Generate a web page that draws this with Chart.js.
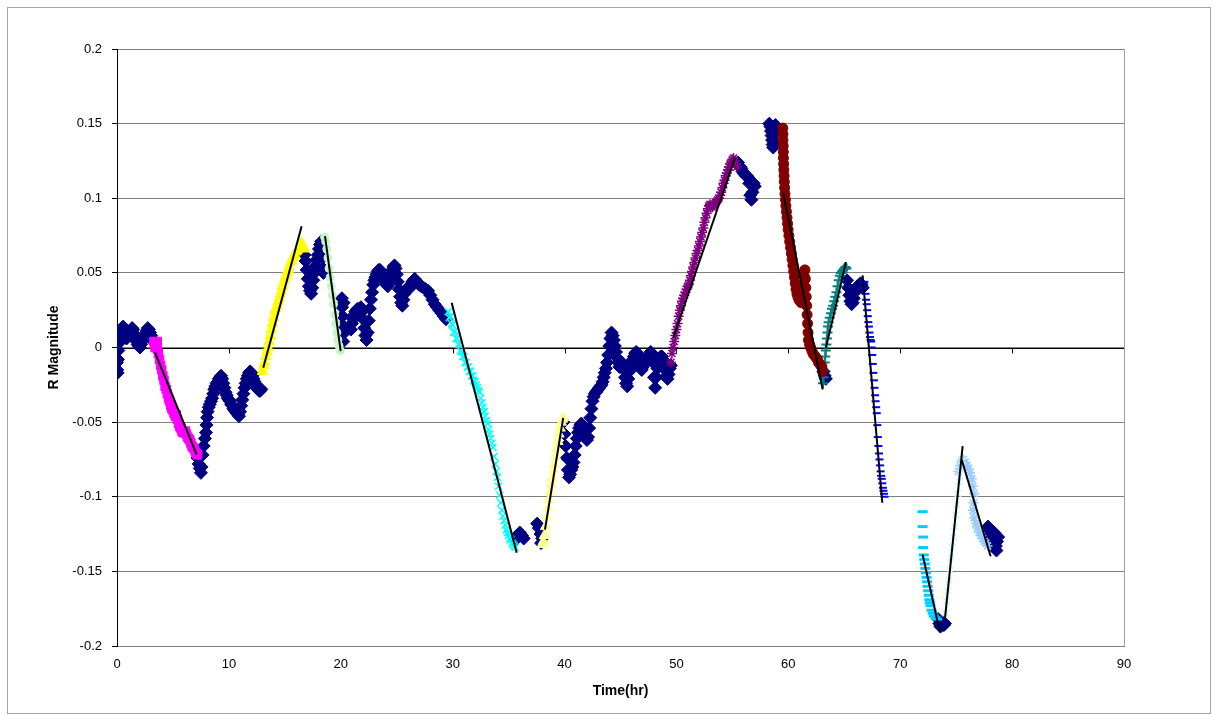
<!DOCTYPE html>
<html>
<head>
<meta charset="utf-8">
<script src="https://cdn.jsdelivr.net/npm/chart.js@4"></script>
<style>
  html, body { margin: 0; padding: 0; background: #ffffff; }
  #wrap { width: 1213px; height: 717px; }
</style>
</head>
<body>
<div id="wrap"><canvas id="c" width="1213" height="717"></canvas></div>
<script>
// ---- Baseline photometry (navy diamonds), one pair of arrays per stretch ----
const baseA_T = [0.00,0.02,0.05,0.08,0.12,0.18,0.25,0.35,0.45,0.55,0.65,0.75,0.85,0.95,1.05,1.15,1.25,1.35,1.45,1.55,1.65,1.75,1.85,1.95,2.05,2.15,2.25,2.35,2.45,2.55,2.65,2.75,2.85,2.95,3.05,3.15,3.25];
const baseA_M = [-0.010,-0.015,-0.017,-0.008,-0.002,0.003,0.007,0.010,0.013,0.014,0.011,0.008,0.006,0.008,0.010,0.011,0.012,0.013,0.012,0.009,0.006,0.004,0.002,0.001,0.000,0.002,0.004,0.005,0.007,0.009,0.011,0.013,0.012,0.010,0.008,0.006,0.004];
const baseB_T = [7.20,7.30,7.40,7.50,7.55,7.65,7.75,7.85,7.95,8.00,8.05,8.10,8.20,8.30,8.40,8.50,8.60,8.70,8.80,8.90,9.00,9.10,9.20,9.30,9.40,9.50,9.60,9.70,9.80,9.90,10.00,10.10,10.20,10.30,10.40,10.50,10.60,10.70,10.80,10.90,11.00,11.10,11.20,11.30,11.40,11.50,11.60,11.70,11.80,11.90,12.00,12.10,12.20,12.30,12.40,12.50,12.60,12.70,12.80,12.90];
const baseB_M = [-0.074,-0.078,-0.081,-0.084,-0.080,-0.072,-0.066,-0.061,-0.057,-0.052,-0.047,-0.043,-0.040,-0.038,-0.036,-0.034,-0.031,-0.028,-0.026,-0.024,-0.023,-0.021,-0.020,-0.019,-0.021,-0.024,-0.027,-0.030,-0.032,-0.034,-0.035,-0.036,-0.038,-0.039,-0.041,-0.042,-0.043,-0.044,-0.045,-0.046,-0.043,-0.039,-0.035,-0.031,-0.027,-0.024,-0.021,-0.019,-0.017,-0.016,-0.017,-0.019,-0.021,-0.023,-0.025,-0.027,-0.028,-0.029,-0.029,-0.028];
const baseC_T = [16.75,16.85,16.95,17.05,17.15,17.25,17.35,17.45,17.55,17.65,17.75,17.85,17.95,18.05,18.15,18.25,18.35,18.40,18.45];
const baseC_M = [0.062,0.058,0.052,0.046,0.041,0.038,0.036,0.040,0.045,0.050,0.055,0.059,0.062,0.066,0.069,0.071,0.060,0.053,0.050];
const baseD_T = [20.10,20.12,20.15,20.18,20.20,20.22,20.25];
const baseD_M = [0.033,0.027,0.021,0.015,0.009,0.004,0.030];
const baseE_T = [20.9,21.0,21.1,21.2,21.3,21.4,21.5,21.6,21.7,21.8,21.9,22.0,22.1,22.2,22.3,22.4,22.5,22.6,22.7,22.8,22.9,23.0,23.1,23.2,23.3,23.4,23.5,23.6,23.7,23.8,23.9,24.0,24.1,24.2,24.3,24.4,24.5,24.6,24.7,24.8,24.9,25.0,25.1,25.2,25.3,25.4,25.5,25.6,25.7,25.8,25.9,26.0,26.1,26.2,26.3,26.4,26.5,26.6,26.7,26.8,26.9,27.0,27.2,27.4,27.6,27.8,28.0,28.2,28.4,28.6,28.8,29.0,29.2,29.4];
const baseE_M = [0.012,0.016,0.019,0.022,0.024,0.025,0.026,0.025,0.026,0.027,0.024,0.019,0.013,0.008,0.005,0.010,0.018,0.026,0.032,0.037,0.042,0.045,0.047,0.049,0.051,0.052,0.052,0.050,0.048,0.046,0.045,0.043,0.042,0.041,0.043,0.046,0.049,0.052,0.054,0.055,0.053,0.049,0.044,0.039,0.034,0.030,0.028,0.032,0.036,0.038,0.039,0.040,0.041,0.040,0.042,0.044,0.045,0.046,0.045,0.044,0.043,0.042,0.041,0.040,0.039,0.038,0.035,0.032,0.029,0.027,0.025,0.023,0.021,0.019];
const baseF_T = [35.6,35.8,36.0,36.2,36.35,37.55,37.7,37.85,38.0,37.9];
const baseF_M = [-0.129,-0.126,-0.124,-0.126,-0.128,-0.118,-0.121,-0.125,-0.128,-0.131];
const baseH_T = [39.9,40.0,40.1,40.2,40.3,40.4,40.5,40.6,40.7,40.8,40.9,41.0,41.1,41.2,41.3,41.4,41.5,41.6,41.7,41.8,41.9,42.0,42.1,42.2,42.3,42.4,42.5,42.6,42.7,42.8,42.9,43.0,43.1,43.2,43.3,43.4,43.5,43.6,43.7,43.8,43.9,44.0,44.1,44.2,44.3,44.4,44.5,44.6,44.7,44.8,44.9,45.0,45.1,45.2,45.3,45.4,45.5,45.6,45.7,45.8,45.9,46.0,46.1,46.2,46.3,46.4,46.5,46.6,46.7,46.8,46.9,47.0,47.1,47.2,47.3,47.4,47.5,47.6,47.7,47.8,47.9,48.0,48.1,48.2,48.3,48.4,48.5,48.6,48.7,48.8,48.9,49.0,49.1,49.2,49.3,49.4,49.5];
const baseH_M = [-0.050,-0.058,-0.066,-0.074,-0.082,-0.087,-0.085,-0.082,-0.080,-0.077,-0.072,-0.066,-0.061,-0.057,-0.054,-0.052,-0.051,-0.052,-0.054,-0.056,-0.059,-0.062,-0.060,-0.054,-0.047,-0.041,-0.036,-0.033,-0.031,-0.030,-0.029,-0.028,-0.027,-0.026,-0.025,-0.023,-0.020,-0.017,-0.014,-0.010,-0.005,0.001,0.006,0.010,0.008,0.005,0.001,-0.003,-0.007,-0.010,-0.013,-0.012,-0.010,-0.011,-0.015,-0.020,-0.024,-0.026,-0.021,-0.016,-0.013,-0.010,-0.008,-0.006,-0.004,-0.003,-0.004,-0.007,-0.011,-0.014,-0.015,-0.013,-0.011,-0.009,-0.008,-0.007,-0.005,-0.004,-0.003,-0.004,-0.010,-0.020,-0.027,-0.020,-0.014,-0.010,-0.007,-0.006,-0.006,-0.008,-0.011,-0.015,-0.019,-0.021,-0.018,-0.014,-0.012];
const baseI_T = [55.5,55.6,55.7,55.8,55.9,56.0,56.1,56.2,56.3,56.4,56.5,56.6,56.7,56.8,56.9,57.0,58.30,58.40,58.45,58.50,58.55,58.60,58.65,58.70,58.75,58.80,58.85];
const baseI_M = [0.124,0.122,0.121,0.120,0.118,0.117,0.116,0.115,0.115,0.114,0.110,0.102,0.099,0.104,0.110,0.108,0.150,0.148,0.145,0.142,0.139,0.136,0.134,0.138,0.143,0.147,0.149];
const baseL_T = [63.15,63.25,63.35,65.25,65.35,65.45,65.55,65.65,65.75,65.85,65.95,66.05,66.15,66.25,66.35,66.45,66.55,66.65];
const baseL_M = [-0.016,-0.019,-0.021,0.045,0.040,0.035,0.031,0.029,0.030,0.033,0.037,0.040,0.041,0.041,0.042,0.043,0.042,0.040];
const baseN_T = [73.40,73.50,73.60,73.70,73.80,73.90,74.00,77.85,77.95,78.05,78.15,78.25,78.35,78.45,78.55,78.65,78.75,78.60,78.40];
const baseN_M = [-0.182,-0.185,-0.187,-0.186,-0.184,-0.186,-0.185,-0.120,-0.121,-0.123,-0.125,-0.127,-0.129,-0.131,-0.133,-0.130,-0.127,-0.136,-0.124];

// ---- Fitted segments ----
// 1: magenta squares
const s1Time = [3.3,3.4,3.4,3.5,3.6,3.6,3.7,3.8,3.9,4.0,4.1,4.2,4.3,4.4,4.5,4.6,4.7,4.8,4.9,5.0,5.1,5.2,5.3,5.4,5.5,5.6,5.7,5.8,5.9,6.0,6.1,6.2,6.3,6.4,6.5,6.6,6.7,6.8,6.9,7.0,7.1,7.2];
const s1Mag  = [0.004,0.002,0.000,0.003,0.004,-0.001,-0.004,-0.008,-0.012,-0.015,-0.019,-0.022,-0.026,-0.028,-0.031,-0.034,-0.036,-0.039,-0.041,-0.042,-0.044,-0.046,-0.045,-0.048,-0.051,-0.053,-0.054,-0.056,-0.057,-0.057,-0.056,-0.058,-0.060,-0.061,-0.062,-0.064,-0.066,-0.067,-0.068,-0.070,-0.071,-0.072];
// 2: yellow triangles
const s2Time = [13.0,13.1,13.2,13.3,13.4,13.5,13.6,13.7,13.8,13.9,14.0,14.1,14.2,14.3,14.4,14.5,14.6,14.7,14.8,14.9,15.0,15.1,15.2,15.3,15.4,15.5,15.6,15.7,15.8,15.9,16.0,16.1,16.2,16.3,16.4,16.5,16.6,16.7];
const s2Mag  = [-0.016,-0.012,-0.010,-0.006,-0.003,0.000,0.004,0.008,0.012,0.016,0.020,0.024,0.026,0.028,0.031,0.033,0.036,0.038,0.041,0.044,0.046,0.048,0.050,0.052,0.054,0.057,0.058,0.060,0.061,0.062,0.064,0.065,0.066,0.068,0.069,0.070,0.068,0.066];
// 3: pale green
const s3Time = [18.55,18.65,18.75,18.85,18.95,19.05,19.15,19.25,19.35,19.45,19.55,19.65,19.75,19.85,19.95];
const s3Mag  = [0.074,0.071,0.066,0.060,0.053,0.047,0.041,0.035,0.029,0.022,0.016,0.010,0.005,0.001,-0.002];
// 4: cyan crosses
const s4Time = [29.6,29.7,29.8,29.9,30.0,30.1,30.2,30.3,30.4,30.5,30.6,30.7,30.8,30.9,31.0,31.1,31.2,31.3,31.4,31.5,31.6,31.7,31.8,31.9,32.0,32.1,32.2,32.3,32.4,32.5,32.6,32.7,32.8,32.9,33.0,33.1,33.2,33.3,33.4,33.5,33.6,33.7,33.8,33.9,34.0,34.1,34.2,34.3,34.4,34.5,34.6,34.7,34.8,34.9,35.0,35.1,35.2,35.3,35.4,35.5,35.6];
const s4Mag  = [0.024,0.020,0.021,0.016,0.015,0.010,0.011,0.006,0.006,0.002,0.002,-0.002,-0.003,-0.006,-0.006,-0.010,-0.010,-0.013,-0.013,-0.016,-0.016,-0.019,-0.019,-0.022,-0.023,-0.025,-0.027,-0.029,-0.030,-0.034,-0.037,-0.040,-0.043,-0.046,-0.049,-0.051,-0.055,-0.058,-0.061,-0.064,-0.067,-0.073,-0.078,-0.083,-0.087,-0.093,-0.099,-0.104,-0.109,-0.113,-0.116,-0.119,-0.122,-0.124,-0.126,-0.128,-0.129,-0.131,-0.132,-0.133,-0.134];
// 5: pale yellow triangles
const s5Time = [38.0,38.1,38.2,38.3,38.4,38.5,38.6,38.7,38.8,38.9,39.0,39.1,39.2,39.3,39.4,39.5,39.6,39.7,39.8,39.9];
const s5Mag  = [-0.132,-0.130,-0.126,-0.120,-0.114,-0.108,-0.102,-0.097,-0.092,-0.087,-0.082,-0.078,-0.073,-0.068,-0.063,-0.058,-0.054,-0.050,-0.048,-0.047];
// 6: purple stars
const s6Time = [49.5,49.6,49.7,49.8,49.9,50.0,50.1,50.2,50.3,50.4,50.5,50.6,50.7,50.8,50.9,51.0,51.1,51.2,51.3,51.4,51.5,51.6,51.7,51.8,51.9,52.0,52.1,52.2,52.3,52.4,52.5,52.6,52.7,52.8,52.9,53.0,53.1,53.2,53.3,53.4,53.5,53.6,53.7,53.8,53.9,54.0,54.1,54.2,54.3,54.4,54.5,54.6,54.7,54.8,54.9,55.0,55.1,55.2,55.3,55.4];
const s6Mag  = [-0.010,-0.004,0.000,0.004,0.008,0.012,0.016,0.021,0.025,0.028,0.031,0.033,0.035,0.037,0.039,0.041,0.042,0.045,0.048,0.051,0.054,0.057,0.060,0.063,0.065,0.068,0.071,0.074,0.077,0.080,0.084,0.087,0.090,0.093,0.095,0.096,0.095,0.094,0.095,0.096,0.097,0.098,0.099,0.100,0.102,0.104,0.107,0.110,0.112,0.115,0.117,0.119,0.121,0.123,0.124,0.126,0.127,0.125,0.123,0.121];
// 7: dark red circles
const s7Time = [59.50,59.52,59.52,59.54,59.55,59.56,59.58,59.60,59.62,59.64,59.67,59.70,59.74,59.78,59.83,59.88,59.93,59.98,60.05,60.12,60.20,60.27,60.34,60.41,60.48,60.55,60.62,60.69,60.77,60.85,60.95,61.05,61.15,61.25,61.32,61.40,61.48,61.52,61.56,61.60,61.64,61.68,61.72,61.76,61.80,61.90,62.0,62.1,62.2,62.3,62.4,62.5,62.6,62.7,62.8,62.9,63.0,63.05];
const s7Mag  = [0.147,0.143,0.139,0.135,0.131,0.127,0.123,0.119,0.115,0.111,0.107,0.103,0.099,0.095,0.091,0.087,0.083,0.079,0.075,0.071,0.067,0.063,0.059,0.055,0.051,0.047,0.043,0.039,0.036,0.034,0.032,0.031,0.030,0.036,0.042,0.048,0.052,0.046,0.040,0.034,0.028,0.022,0.016,0.010,0.005,0.002,0.000,-0.002,-0.004,-0.005,-0.006,-0.007,-0.008,-0.010,-0.011,-0.012,-0.013,-0.016];
// 8: teal plus signs
const s8Time = [63.10,63.15,63.20,63.25,63.30,63.35,63.40,63.45,63.50,63.55,63.6,63.7,63.8,63.9,64.0,64.1,64.2,64.3,64.4,64.5,64.6,64.7,64.8,64.9,65.0,65.1,65.2];
const s8Mag  = [-0.024,-0.020,-0.015,-0.010,-0.006,-0.002,0.002,0.006,0.010,0.014,0.017,0.020,0.023,0.026,0.028,0.031,0.034,0.037,0.041,0.045,0.048,0.050,0.051,0.052,0.053,0.054,0.053];
// 9: blue dashes
const s9Time = [66.80,66.85,66.90,66.95,67.00,67.05,67.10,67.15,67.20,67.25,67.30,67.35,67.40,67.45,67.50,67.55,67.60,67.65,67.70,67.75,67.80,67.85,67.90,67.95,68.00,68.05,68.10,68.15,68.20,68.25,68.30,68.35,68.40,68.45,68.50,68.55,68.60];
const s9Mag  = [0.044,0.040,0.036,0.032,0.029,0.025,0.021,0.017,0.014,0.010,0.007,0.005,0.004,0.000,-0.005,-0.011,-0.017,-0.022,-0.027,-0.032,-0.036,-0.040,-0.044,-0.052,-0.060,-0.066,-0.071,-0.075,-0.079,-0.083,-0.086,-0.088,-0.091,-0.094,-0.096,-0.098,-0.100];
// 10: sky blue dashes
const s10Time = [72.00,72.00,72.05,72.05,72.10,72.15,72.20,72.25,72.30,72.35,72.40,72.45,72.50,72.55,72.60,72.65,72.70,72.80,72.90,73.00,73.15,73.30];
const s10Mag  = [-0.110,-0.120,-0.127,-0.134,-0.139,-0.142,-0.145,-0.148,-0.151,-0.154,-0.157,-0.160,-0.163,-0.166,-0.169,-0.171,-0.173,-0.176,-0.178,-0.180,-0.181,-0.182];
// 11: pale cyan crosses
const s11Time = [74.05,74.15,74.25,74.35,74.45,74.55,74.65,74.75,74.85,74.95,75.05,75.15,75.25,75.35,75.45,75.55];
const s11Mag  = [-0.178,-0.170,-0.163,-0.156,-0.149,-0.141,-0.134,-0.127,-0.120,-0.112,-0.105,-0.098,-0.090,-0.084,-0.079,-0.076];
// 12: light blue stars
const s12Time = [75.2,75.35,75.5,75.65,75.8,75.95,76.1,76.25,76.4,76.5,76.6,76.55,76.5,76.6,76.75,76.9,77.05,77.2,77.35,77.5,77.65,77.8];
const s12Mag  = [-0.083,-0.079,-0.076,-0.075,-0.077,-0.079,-0.081,-0.084,-0.088,-0.093,-0.098,-0.104,-0.109,-0.114,-0.118,-0.121,-0.124,-0.126,-0.128,-0.130,-0.131,-0.133];

// Linear fits: [start, end] of each segment
const fitTime = [[3.40,7.12],[13.07,16.50],[18.59,19.99],[29.91,35.72],[38.25,39.88],[49.71,55.23],
                 [59.54,63.07],[63.36,65.15],[66.64,68.40],[72.00,73.55],[73.99,75.58],[75.49,78.08]];
const fitMag  = [[-0.0034,-0.0717],[-0.0136,0.0813],[0.0746,-0.0025],[0.030,-0.1376],[-0.122,-0.0471],[0.0065,0.127],
                 [0.1037,-0.0281],[-0.0002,0.0572],[0.0483,-0.104],[-0.1387,-0.1908],[-0.1823,-0.0661],[-0.075,-0.1399]];

const xTicks = [0,10,20,30,40,50,60,70,80,90];
const yTicks = [0.2,0.15,0.1,0.05,0,-0.05,-0.1,-0.15,-0.2];

const baseTime = [].concat(baseA_T, baseB_T, baseC_T, baseD_T, baseE_T, baseF_T, baseH_T, baseI_T, baseL_T, baseN_T);
const baseMag  = [].concat(baseA_M, baseB_M, baseC_M, baseD_M, baseE_M, baseF_M, baseH_M, baseI_M, baseL_M, baseN_M);

const pts = (t, m) => t.map((v, i) => ({ x: v, y: m[i] }));

function series(t, m, color, style, radius, bw) {
  return {
    data: pts(t, m),
    pointStyle: style,
    pointRadius: radius,
    pointBorderWidth: bw,
    backgroundColor: color,
    borderColor: color,
    pointBackgroundColor: color,
    pointBorderColor: color,
    showLine: false
  };
}

const fits = fitTime.map((t, i) => ({
  data: pts(t, fitMag[i]),
  showLine: true,
  borderColor: '#000000',
  borderWidth: 2,
  pointRadius: 0,
  order: -1
}));

const datasets = [
  ...fits,
  series(s1Time, s1Mag, '#FF00FF', 'rect', 6, 1),
  series(s2Time, s2Mag, '#FFFF00', 'triangle', 6, 1),
  series(s3Time, s3Mag, '#C8F5C8', 'circle', 4, 1),
  series(s4Time, s4Mag, '#00FFFF', 'crossRot', 5, 1.5),
  series(s5Time, s5Mag, '#FFFF99', 'triangle', 6, 1),
  series(s6Time, s6Mag, '#800080', 'star', 5, 1.5),
  series(s7Time, s7Mag, '#800000', 'circle', 5, 1),
  series(s8Time, s8Mag, '#008080', 'cross', 5, 2),
  series(s9Time, s9Mag, '#0000FF', 'line', 4, 2),
  series(s10Time, s10Mag, '#00CCFF', 'line', 5, 3),
  series(s11Time, s11Mag, '#C4F8FF', 'crossRot', 4.5, 1.5),
  series(s12Time, s12Mag, '#99CCFF', 'star', 5, 1.5),
  series(baseTime, baseMag, '#000080', 'rectRot', 6.5, 1)
];

// Outer frame, plot edges and the zero-crossing time axis with its tick marks
const framePlugin = {
  id: 'frame',
  beforeDraw(chart) {
    const ctx = chart.ctx;
    ctx.save();
    ctx.fillStyle = '#ffffff';
    ctx.fillRect(0, 0, chart.width, chart.height);
    ctx.strokeStyle = '#a6a6a6';
    ctx.lineWidth = 1;
    ctx.strokeRect(7.5, 7.5, 1203, 706);
    ctx.restore();
  },
  beforeDatasetsDraw(chart) {
    const { ctx, chartArea } = chart;
    const xs = chart.scales.x, ys = chart.scales.y;
    const y0 = Math.round(ys.getPixelForValue(0)) + 0.5;
    ctx.save();
    ctx.strokeStyle = '#000000';
    ctx.lineWidth = 1;
    ctx.beginPath();
    ctx.moveTo(chartArea.left, y0);
    ctx.lineTo(chartArea.right, y0);
    xTicks.forEach(v => {
      const px = Math.round(xs.getPixelForValue(v)) + 0.5;
      ctx.moveTo(px, y0);
      ctx.lineTo(px, y0 + 5);
    });
    ctx.stroke();
    ctx.strokeStyle = '#a0a0a0';
    ctx.beginPath();
    ctx.moveTo(Math.round(chartArea.right) + 0.5, chartArea.top);
    ctx.lineTo(Math.round(chartArea.right) + 0.5, chartArea.bottom);
    ctx.stroke();
    ctx.restore();
  }
};

Chart.defaults.font.family = '"Liberation Sans", Arial, sans-serif';
Chart.defaults.color = '#000000';

new Chart(document.getElementById('c'), {
  type: 'scatter',
  data: { datasets },
  options: {
    responsive: false,
    devicePixelRatio: 1,
    animation: false,
    layout: { padding: { left: 0, right: 89, top: 49, bottom: 0 } },
    plugins: { legend: { display: false }, tooltip: { enabled: false } },
    scales: {
      x: {
        type: 'linear',
        min: 0, max: 90,
        afterBuildTicks: s => { s.ticks = xTicks.map(v => ({ value: v })); },
        afterFit: s => { s.height = 71; },
        grid: { display: false, drawTicks: false },
        border: { display: true, color: '#808080' },
        ticks: { padding: 11, font: { size: 13 }, callback: v => String(v) },
        title: { display: true, text: 'Time(hr)', font: { size: 14, weight: 'bold' }, padding: { top: 4, bottom: 17 } }
      },
      y: {
        type: 'linear',
        min: -0.2, max: 0.2,
        afterBuildTicks: s => { s.ticks = yTicks.map(v => ({ value: v })); },
        afterFit: s => { s.width = 117; },
        grid: { color: '#7f7f7f', lineWidth: 1, drawTicks: true, tickLength: 5, tickColor: '#000000' },
        border: { display: true, color: '#000000' },
        ticks: { padding: 10, font: { size: 13 }, callback: v => String(+v.toFixed(2)) },
        title: { display: true, text: 'R Magnitude', font: { size: 14, weight: 'bold' }, padding: { top: 46, bottom: 0 } }
      }
    }
  },
  plugins: [framePlugin]
});
</script>
</body>
</html>
